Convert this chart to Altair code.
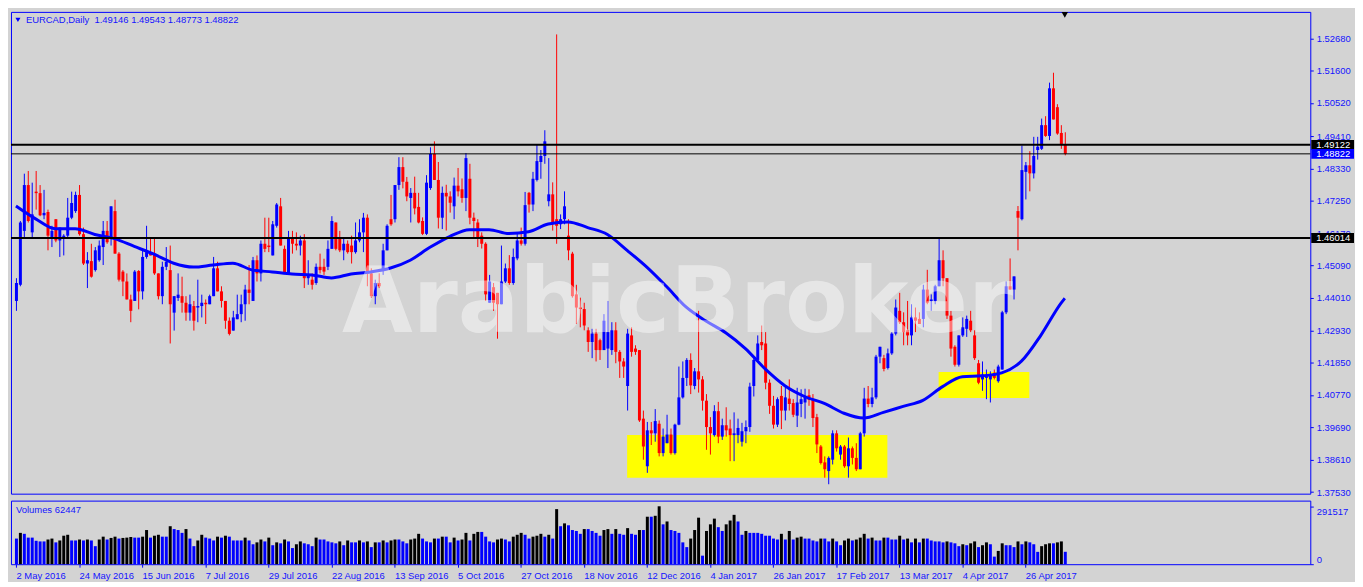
import altair as alt
import pandas as pd

# ---------------- data ----------------
date_labels = ["2 May 2016", "24 May 2016", "15 Jun 2016", "7 Jul 2016", "29 Jul 2016",
               "22 Aug 2016", "13 Sep 2016", "5 Oct 2016", "27 Oct 2016", "18 Nov 2016",
               "12 Dec 2016", "4 Jan 2017", "26 Jan 2017", "17 Feb 2017", "13 Mar 2017",
               "4 Apr 2017", "26 Apr 2017"]
date_tick_bars = [0, 16, 32, 48, 64, 80, 96, 112, 128, 144, 160, 176, 192, 208, 224, 240, 256]

price_ticks = [1.37530, 1.38610, 1.39690, 1.40770, 1.41850, 1.42930, 1.44010, 1.45090,
               1.46170, 1.47250, 1.48330, 1.49410, 1.50520, 1.51600, 1.52680]

open_ = [
    1.4391, 1.4445, 1.4625, 1.4778, 1.4620, 1.4756, 1.4751, 1.4677, 1.4688, 1.4603,
    1.4664, 1.4593, 1.4598, 1.4609, 1.4669, 1.4691, 1.4745, 1.4614, 1.4516, 1.4524,
    1.4494, 1.4527, 1.4571, 1.4625, 1.4603, 1.4691, 1.4549, 1.4489, 1.4456, 1.4396,
    1.4391, 1.4491, 1.4423, 1.4538, 1.4554, 1.4549, 1.4483, 1.4407, 1.4505, 1.4494,
    1.4352, 1.4401, 1.4407, 1.4385, 1.4352, 1.4374, 1.4369, 1.4374, 1.4385, 1.4380,
    1.4407, 1.4500, 1.4423, 1.4391, 1.4325, 1.4292, 1.4330, 1.4347, 1.4380, 1.4429,
    1.4391, 1.4527, 1.4483, 1.4582, 1.4576, 1.4543, 1.4642, 1.4707, 1.4565, 1.4483,
    1.4598, 1.4582, 1.4576, 1.4593, 1.4467, 1.4462, 1.4451, 1.4505, 1.4505, 1.4505,
    1.4565, 1.4653, 1.4598, 1.4560, 1.4582, 1.4576, 1.4554, 1.4593, 1.4620, 1.4669,
    1.4483, 1.4407, 1.4451, 1.4494, 1.4560, 1.4664, 1.4664, 1.4778, 1.4838, 1.4789,
    1.4735, 1.4752, 1.4705, 1.4658, 1.4615, 1.4768, 1.4882, 1.4795, 1.4669, 1.4752,
    1.4740, 1.4707, 1.4776, 1.4764, 1.4735, 1.4799, 1.4669, 1.4653, 1.4609, 1.4582,
    1.4385, 1.4437, 1.4418, 1.4380, 1.4456, 1.4500, 1.4451, 1.4533, 1.4593, 1.4582,
    1.4752, 1.4713, 1.4795, 1.4855, 1.4875, 1.4724, 1.4747, 1.4664, 1.4647, 1.4664,
    1.4609, 1.4549, 1.4413, 1.4369, 1.4364, 1.4293, 1.4254, 1.4282, 1.4260, 1.4227,
    1.4232, 1.4227, 1.4293, 1.4221, 1.4189, 1.4107, 1.4276, 1.4232, 1.4227, 1.3998,
    1.3839, 1.3959, 1.3949, 1.3981, 1.3883, 1.3916, 1.3945, 1.3883, 1.3978, 1.4069,
    1.4134, 1.4194, 1.4107, 1.4156, 1.4129, 1.4058, 1.3970, 1.3943, 1.4023, 1.3938,
    1.3976, 1.3965, 1.3943, 1.3943, 1.3921, 1.3956, 1.3970, 1.4107, 1.4194, 1.4254,
    1.4249, 1.4118, 1.4041, 1.3978, 1.4074, 1.4025, 1.4065, 1.4050, 1.4008, 1.4047,
    1.4052, 1.4076, 1.4063, 1.4003, 1.3905, 1.3852, 1.3823, 1.3861, 1.3949, 1.3878,
    1.3905, 1.3839, 1.3899, 1.3867, 1.3829, 1.3949, 1.4065, 1.4047, 1.4069, 1.4205,
    1.4200, 1.4167, 1.4216, 1.4282, 1.4358, 1.4320, 1.4293, 1.4276, 1.4336, 1.4331,
    1.4331, 1.4429, 1.4391, 1.4391, 1.4440, 1.4527, 1.4467, 1.4342, 1.4238, 1.4178,
    1.4276, 1.4298, 1.4325, 1.4276, 1.4183, 1.4129, 1.4134, 1.4129, 1.4151, 1.4123,
    1.4162, 1.4353, 1.4440, 1.4429, 1.4691, 1.4664, 1.4822, 1.4844, 1.4817, 1.4895,
    1.4899, 1.4978, 1.4942, 1.5101, 1.5038, 1.4952, 1.49146]

high = [
    1.4467, 1.4658, 1.4816, 1.4825, 1.4786, 1.4825, 1.4778, 1.4762, 1.4696, 1.4642,
    1.4664, 1.4636, 1.4614, 1.4735, 1.4756, 1.4756, 1.4778, 1.4636, 1.4554, 1.4582,
    1.4571, 1.4593, 1.4658, 1.4658, 1.4707, 1.4729, 1.4554, 1.4494, 1.4483, 1.4412,
    1.4494, 1.4494, 1.4565, 1.4642, 1.4598, 1.4598, 1.4483, 1.4522, 1.4571, 1.4576,
    1.4407, 1.4483, 1.4472, 1.4407, 1.4412, 1.4391, 1.4462, 1.4412, 1.4396, 1.4412,
    1.4538, 1.4522, 1.4440, 1.4391, 1.4336, 1.4358, 1.4412, 1.4412, 1.4445, 1.4511,
    1.4538, 1.4543, 1.4593, 1.4669, 1.4669, 1.4658, 1.4718, 1.4735, 1.4576, 1.4625,
    1.4625, 1.4620, 1.4609, 1.4614, 1.4527, 1.4483, 1.4516, 1.4549, 1.4532, 1.4593,
    1.4674, 1.4653, 1.4625, 1.4603, 1.4593, 1.4609, 1.4653, 1.4664, 1.4685, 1.4680,
    1.4500, 1.4462, 1.4483, 1.4582, 1.4647, 1.4745, 1.4778, 1.4871, 1.4871, 1.4805,
    1.4768, 1.4806, 1.4752, 1.4670, 1.4811, 1.4904, 1.4924, 1.4855, 1.4773, 1.4779,
    1.4757, 1.4803, 1.4835, 1.4800, 1.4885, 1.4849, 1.4686, 1.4664, 1.4620, 1.4587,
    1.4478, 1.4451, 1.4418, 1.4576, 1.4516, 1.4544, 1.4566, 1.4620, 1.4636, 1.4755,
    1.4755, 1.4822, 1.4913, 1.4895, 1.4961, 1.4868, 1.4787, 1.5281, 1.4680, 1.4757,
    1.4664, 1.4555, 1.4445, 1.4402, 1.4385, 1.4303, 1.4298, 1.4298, 1.4265, 1.4347,
    1.4391, 1.4320, 1.4320, 1.4227, 1.4200, 1.4298, 1.4303, 1.4243, 1.4227, 1.4025,
    1.3987, 1.3987, 1.4030, 1.3992, 1.3965, 1.4011, 1.3965, 1.3981, 1.4172, 1.4189,
    1.4200, 1.4216, 1.4167, 1.4358, 1.4140, 1.4080, 1.4003, 1.4043, 1.4054, 1.3998,
    1.4036, 1.3995, 1.4019, 1.3998, 1.3984, 1.3992, 1.4118, 1.4200, 1.4276, 1.4309,
    1.4287, 1.4129, 1.4074, 1.4069, 1.4107, 1.4107, 1.4129, 1.4063, 1.4101, 1.4096,
    1.4098, 1.4096, 1.4080, 1.4014, 1.3910, 1.3872, 1.3872, 1.3959, 1.3959, 1.3910,
    1.3910, 1.3935, 1.3905, 1.3916, 1.3954, 1.4101, 1.4107, 1.4101, 1.4211, 1.4238,
    1.4211, 1.4232, 1.4287, 1.4396, 1.4418, 1.4353, 1.4391, 1.4380, 1.4369, 1.4353,
    1.4445, 1.4495, 1.4413, 1.4445, 1.4598, 1.4560, 1.4467, 1.4358, 1.4243, 1.4276,
    1.4336, 1.4342, 1.4358, 1.4293, 1.4194, 1.4189, 1.4162, 1.4156, 1.4162, 1.4178,
    1.4358, 1.4456, 1.4533, 1.4473, 1.4708, 1.4910, 1.4855, 1.4891, 1.4939, 1.4939,
    1.5000, 1.5008, 1.5120, 1.5153, 1.5048, 1.4978, 1.49543]

low = [
    1.4358, 1.4440, 1.4598, 1.4653, 1.4603, 1.4696, 1.4674, 1.4664, 1.4560, 1.4571,
    1.4587, 1.4538, 1.4543, 1.4603, 1.4664, 1.4685, 1.4609, 1.4511, 1.4434, 1.4469,
    1.4489, 1.4522, 1.4511, 1.4582, 1.4576, 1.4549, 1.4456, 1.4407, 1.4396, 1.4320,
    1.4391, 1.4363, 1.4396, 1.4532, 1.4543, 1.4478, 1.4396, 1.4380, 1.4494, 1.4249,
    1.4292, 1.4391, 1.4352, 1.4325, 1.4325, 1.4292, 1.4320, 1.4336, 1.4314, 1.4380,
    1.4407, 1.4423, 1.4369, 1.4298, 1.4276, 1.4292, 1.4330, 1.4320, 1.4325, 1.4380,
    1.4391, 1.4456, 1.4456, 1.4554, 1.4554, 1.4543, 1.4636, 1.4576, 1.4483, 1.4483,
    1.4549, 1.4560, 1.4543, 1.4434, 1.4445, 1.4429, 1.4445, 1.4483, 1.4478, 1.4494,
    1.4565, 1.4560, 1.4554, 1.4527, 1.4549, 1.4516, 1.4549, 1.4587, 1.4554, 1.4440,
    1.4401, 1.4380, 1.4434, 1.4478, 1.4560, 1.4642, 1.4653, 1.4762, 1.4767, 1.4724,
    1.4653, 1.4680, 1.4650, 1.4611, 1.4611, 1.4762, 1.4795, 1.4633, 1.4631, 1.4626,
    1.4686, 1.4664, 1.4740, 1.4719, 1.4691, 1.4647, 1.4598, 1.4571, 1.4566, 1.4391,
    1.4385, 1.4358, 1.4265, 1.4380, 1.4451, 1.4445, 1.4445, 1.4527, 1.4576, 1.4576,
    1.4686, 1.4691, 1.4790, 1.4799, 1.4849, 1.4707, 1.4626, 1.4582, 1.4631, 1.4647,
    1.4527, 1.4402, 1.4314, 1.4303, 1.4293, 1.4221, 1.4200, 1.4189, 1.4194, 1.4227,
    1.4167, 1.4211, 1.4183, 1.4134, 1.4134, 1.4025, 1.4205, 1.4211, 1.3987, 1.3861,
    1.3817, 1.3910, 1.3921, 1.3872, 1.3872, 1.3916, 1.3878, 1.3878, 1.3976, 1.4065,
    1.4107, 1.4080, 1.4096, 1.4085, 1.4025, 1.3894, 1.3878, 1.3938, 1.3916, 1.3927,
    1.3938, 1.3856, 1.3856, 1.3916, 1.3905, 1.3916, 1.3954, 1.4072, 1.4194, 1.4227,
    1.4096, 1.4014, 1.3965, 1.3970, 1.3963, 1.3992, 1.4025, 1.4003, 1.3970, 1.4003,
    1.3998, 1.4041, 1.3970, 1.3883, 1.3845, 1.3801, 1.3779, 1.3845, 1.3888, 1.3861,
    1.3834, 1.3801, 1.3845, 1.3823, 1.3829, 1.3938, 1.4036, 1.4036, 1.4063, 1.4183,
    1.4156, 1.4162, 1.4211, 1.4276, 1.4314, 1.4243, 1.4243, 1.4243, 1.4287, 1.4314,
    1.4303, 1.4380, 1.4358, 1.4380, 1.4440, 1.4440, 1.4331, 1.4205, 1.4172, 1.4172,
    1.4271, 1.4271, 1.4287, 1.4194, 1.4113, 1.4091, 1.4063, 1.4052, 1.4129, 1.4118,
    1.4162, 1.4347, 1.4429, 1.4396, 1.4560, 1.4660, 1.4730, 1.4757, 1.4800, 1.4863,
    1.4895, 1.4939, 1.4928, 1.4997, 1.4946, 1.4899, 1.48773]

close = [
    1.4451, 1.4653, 1.4778, 1.4658, 1.4680, 1.4751, 1.4677, 1.4685, 1.4609, 1.4625,
    1.4593, 1.4636, 1.4609, 1.4669, 1.4718, 1.4745, 1.4614, 1.4516, 1.4527, 1.4472,
    1.4560, 1.4576, 1.4625, 1.4587, 1.4707, 1.4549, 1.4462, 1.4456, 1.4396, 1.4358,
    1.4489, 1.4423, 1.4538, 1.4554, 1.4543, 1.4483, 1.4407, 1.4505, 1.4522, 1.4380,
    1.4407, 1.4412, 1.4385, 1.4352, 1.4380, 1.4325, 1.4374, 1.4385, 1.4380, 1.4407,
    1.4500, 1.4423, 1.4391, 1.4325, 1.4281, 1.4336, 1.4347, 1.4380, 1.4429, 1.4418,
    1.4527, 1.4483, 1.4582, 1.4565, 1.4571, 1.4647, 1.4713, 1.4576, 1.4483, 1.4598,
    1.4582, 1.4576, 1.4593, 1.4467, 1.4478, 1.4445, 1.4505, 1.4494, 1.4489, 1.4565,
    1.4658, 1.4565, 1.4560, 1.4582, 1.4554, 1.4554, 1.4593, 1.4620, 1.4669, 1.4483,
    1.4407, 1.4451, 1.4440, 1.4560, 1.4642, 1.4647, 1.4778, 1.4838, 1.4789, 1.4740,
    1.4752, 1.4700, 1.4653, 1.4615, 1.4786, 1.4882, 1.4795, 1.4669, 1.4752, 1.4740,
    1.4719, 1.4776, 1.4757, 1.4735, 1.4868, 1.4669, 1.4658, 1.4598, 1.4582, 1.4413,
    1.4456, 1.4385, 1.4380, 1.4456, 1.4500, 1.4451, 1.4538, 1.4593, 1.4582, 1.4711,
    1.4713, 1.4799, 1.4858, 1.4875, 1.4924, 1.4747, 1.4653, 1.4642, 1.4664, 1.4707,
    1.4560, 1.4407, 1.4369, 1.4364, 1.4309, 1.4254, 1.4282, 1.4227, 1.4227, 1.4325,
    1.4287, 1.4293, 1.4221, 1.4189, 1.4172, 1.4282, 1.4221, 1.4221, 1.3992, 1.3905,
    1.3959, 1.3949, 1.3990, 1.3883, 1.3938, 1.3945, 1.3883, 1.3978, 1.4069, 1.4134,
    1.4194, 1.4109, 1.4156, 1.4129, 1.4058, 1.3970, 1.3949, 1.4023, 1.3938, 1.3976,
    1.3959, 1.3943, 1.3949, 1.3967, 1.3956, 1.3970, 1.4105, 1.4194, 1.4249, 1.4243,
    1.4118, 1.4041, 1.3978, 1.4063, 1.4025, 1.4069, 1.4047, 1.4011, 1.4052, 1.4063,
    1.4074, 1.4061, 1.4000, 1.3912, 1.3850, 1.3829, 1.3867, 1.3949, 1.3899, 1.3905,
    1.3839, 1.3899, 1.3867, 1.3829, 1.3949, 1.4065, 1.4047, 1.4069, 1.4205, 1.4238,
    1.4164, 1.4216, 1.4282, 1.4369, 1.4320, 1.4287, 1.4276, 1.4336, 1.4325, 1.4314,
    1.4429, 1.4385, 1.4396, 1.4440, 1.4527, 1.4467, 1.4342, 1.4232, 1.4178, 1.4276,
    1.4303, 1.4331, 1.4293, 1.4200, 1.4118, 1.4145, 1.4140, 1.4145, 1.4134, 1.4172,
    1.4353, 1.4440, 1.4429, 1.4473, 1.4669, 1.4828, 1.4844, 1.4817, 1.4875, 1.4906,
    1.4978, 1.4942, 1.5101, 1.4997, 1.4950, 1.4915, 1.48822]

volume = [
    129000, 157700, 152900, 133800, 133800, 117900, 114700, 114700, 124300, 129000,
    109900, 119500, 143400, 148100, 119500, 119500, 124300, 119500, 124300, 119500,
    90800, 124300, 138600, 124300, 132200, 138600, 129000, 132200, 133800, 137000,
    133800, 133800, 138600, 172000, 133800, 143400, 148100, 138600, 138600, 191200,
    176800, 172000, 157700, 176800, 129000, 90800, 119500, 148100, 133800, 129000,
    119500, 138600, 133800, 143400, 138600, 119500, 119500, 119500, 133800, 119500,
    100400, 109900, 124300, 114700, 133800, 95600, 109900, 105100, 124300, 114700,
    81200, 100400, 114700, 105100, 100400, 90800, 133800, 124300, 124300, 114700,
    109900, 105100, 114700, 95600, 119500, 109900, 109900, 119500, 109900, 114700,
    86000, 109900, 109900, 119500, 109900, 119500, 124300, 124300, 114700, 105100,
    124300, 129000, 152900, 129000, 114700, 109900, 129000, 129000, 138600, 138600,
    109900, 133800, 119500, 124300, 157700, 119500, 152900, 162500, 162500, 138600,
    114700, 109900, 124300, 129000, 124300, 114700, 138600, 148100, 157700, 148100,
    129000, 138600, 143400, 152900, 138600, 148100, 129000, 277200, 191200, 205500,
    195900, 172000, 167300, 152900, 176800, 176800, 167300, 157700, 143400, 172000,
    176800, 152900, 176800, 152900, 148100, 181600, 152900, 148100, 172000, 172000,
    239000, 239000, 243700, 291517, 200700, 215100, 172000, 167300, 157700, 109900,
    86000, 129000, 172000, 234200, 43000, 167300, 200700, 229400, 186400, 167300,
    200700, 219800, 248500, 215100, 148100, 167300, 157700, 157700, 157700, 152900,
    143400, 143400, 129000, 124300, 152900, 124300, 167300, 124300, 133800, 138600,
    129000, 129000, 119500, 114700, 129000, 129000, 114700, 129000, 114700, 95600,
    119500, 129000, 119500, 124300, 133800, 152900, 129000, 133800, 119500, 119500,
    133800, 133800, 124300, 124300, 143400, 124300, 129000, 109900, 129000, 109900,
    129000, 129000, 119500, 114700, 114700, 109900, 114700, 109900, 105100, 90800,
    100400, 95600, 105100, 114700, 86000, 95600, 109900, 100400, 38200, 66900,
    105100, 95600, 95600, 86000, 114700, 100400, 114700, 109900, 100400, 62100,
    90800, 100400, 105100, 105100, 109900, 114700, 62447]

ma_bar = [0, 5, 10, 15, 20, 25, 30, 35, 40, 45, 50, 55, 60, 65, 70, 75, 80, 85, 90, 95,
          100, 105, 110, 115, 120, 125, 130, 135, 140, 145, 150, 155, 160, 165, 170, 175,
          180, 185, 190, 195, 200, 205, 210, 215, 220, 225, 230, 235, 240, 245, 250, 255,
          260, 265, 266]
ma_val = [1.4708, 1.4665, 1.4632, 1.4632, 1.4613, 1.4599, 1.4573, 1.4547, 1.4517, 1.4504,
          1.4511, 1.4517, 1.4494, 1.4488, 1.4481, 1.4478, 1.4468, 1.4481, 1.4488, 1.4501,
          1.4527, 1.4570, 1.4606, 1.4629, 1.4629, 1.4616, 1.4622, 1.4648, 1.4655, 1.4636,
          1.4613, 1.4560, 1.4504, 1.4439, 1.4370, 1.4324, 1.4285, 1.4232, 1.4164, 1.4108,
          1.4072, 1.4049, 1.4016, 1.4000, 1.4019, 1.4039, 1.4059, 1.4105, 1.4138, 1.4141,
          1.4151, 1.4190, 1.4278, 1.4383, 1.4400]

level_thick = [1.49122, 1.46014]
level_close = [1.48822]

zone_start = [155, 234]
zone_end = [221, 257]
zone_low = [1.3801, 1.4067]
zone_high = [1.3943, 1.4154]

symbol_name = "EURCAD,Daily"
watermark = "ArabicBroker"

# ---------------- chart ----------------
W, H1, H2 = 1308, 485, 64
X_DOMAIN = [0, 327]
Y_DOMAIN = [1.37475, 1.53562]
V_DOMAIN = [0, 320000]
BLUE = "#0000ff"
RED = "#ff0000"
TXT = "#1414ff"
BG = "#d3d3d3"
FONT = "Liberation Sans"
FS = 9.5

n = len(close)
df = pd.DataFrame({"i": list(range(n)), "open": open_, "high": high, "low": low,
                   "close": close, "volume": volume})
df["dir"] = ["up" if c >= o else "down" for o, c in zip(open_, close)]
df["vdir"] = ["vdn"] + ["vup" if volume[k] > volume[k - 1] else "vdn" for k in range(1, n)]

xs = alt.Scale(domain=X_DOMAIN, nice=False, zero=False)
ys = alt.Scale(domain=Y_DOMAIN, nice=False, zero=False)
vs = alt.Scale(domain=V_DOMAIN, nice=False, zero=False)

y_axis = alt.Axis(orient="right", values=price_ticks, format=".5f", title=None, grid=False,
                  domain=False, ticks=True, tickColor=BLUE, tickSize=3, labelColor=TXT,
                  labelPadding=3, labelFont=FONT, labelFontSize=FS, labelOverlap=False,
                  labelFlush=False)


def Y(field):
    return alt.Y(f"{field}:Q", scale=ys, axis=y_axis)


def X(field="i"):
    return alt.X(f"{field}:Q", scale=xs, axis=None)


dir_color = alt.Color("dir:N", scale=alt.Scale(domain=["up", "down"], range=[BLUE, RED]),
                      legend=None)

zones = pd.DataFrame({"x1": zone_start, "x2": zone_end, "p1": zone_low, "p2": zone_high})
yellow = alt.Chart(zones).mark_rect(color="#ffff00").encode(
    x=X("x1"), x2="x2:Q", y=Y("p1"), y2="p2:Q")

wicks = alt.Chart(df).mark_rule(strokeWidth=1, xOffset=0.5).encode(
    x=X(), y=Y("low"), y2="high:Q", color=dir_color)

bodies = alt.Chart(df).mark_bar(width=3, xOffset=0.5).encode(
    x=X(), y=Y("open"), y2="close:Q", color=dir_color)

ma_df = pd.DataFrame({"bar": ma_bar, "ma": ma_val})
ma_line = alt.Chart(ma_df).mark_line(color=BLUE, strokeWidth=3, interpolate="monotone").encode(
    x=X("bar"), y=Y("ma"))

wm = alt.Chart(pd.DataFrame({"t": [watermark]})).mark_text(
    font="DejaVu Sans", fontWeight="bold", fontSize=92, color="white", opacity=0.45,
    align="center", baseline="alphabetic").encode(
    x=alt.value(671), y=alt.value(322), text="t:N")

hl_thick = alt.Chart(pd.DataFrame({"price": level_thick})).mark_rule(
    color="black", strokeWidth=2).encode(y=Y("price"))
hl_thin = alt.Chart(pd.DataFrame({"price": level_close})).mark_rule(
    color="black", strokeWidth=1).encode(y=Y("price"))

title_text = f"{symbol_name}\u00a0 {open_[-1]:.5f} {high[-1]:.5f} {low[-1]:.5f} {close[-1]:.5f}"
title_mark = alt.Chart(pd.DataFrame({"t": [title_text]})).mark_text(
    align="left", baseline="middle", font=FONT, fontSize=FS, color=TXT).encode(
    x=alt.value(15), y=alt.value(8), text="t:N")
title_tri = alt.Chart(pd.DataFrame({"t": [1]})).mark_point(
    shape="triangle-down", filled=True, size=26, color=BLUE, opacity=1).encode(
    x=alt.value(7), y=alt.value(8))

shift_mark = alt.Chart(pd.DataFrame({"i": [n - 1]})).mark_point(
    shape="triangle-down", filled=True, size=42, color="black", opacity=1).encode(
    x=X(), y=alt.value(3))

lab_df = pd.DataFrame({
    "price": [level_thick[0], level_close[0], level_thick[1]],
    "kind": ["line", "close", "line"],
})
lab_df["label"] = [f"{p:.5f}" for p in lab_df["price"]]
box_shape = "M-1,-0.2326L1,-0.2326L1,0.2326L-1,0.2326Z"
lab_box = alt.Chart(lab_df).mark_point(
    shape=box_shape, size=43 * 43, filled=True, opacity=1, strokeWidth=0).encode(
    x=alt.value(W + 22.5), y=Y("price"),
    color=alt.Color("kind:N", scale=alt.Scale(domain=["line", "close"], range=["#000000", BLUE]),
                    legend=None))
lab_txt = alt.Chart(lab_df).mark_text(
    align="left", baseline="middle", font=FONT, fontSize=FS, color="white").encode(
    x=alt.value(W + 6), y=Y("price"), text="label:N")

main = alt.layer(yellow, wicks, bodies, ma_line, wm, hl_thick, hl_thin, title_tri, title_mark,
                 shift_mark, lab_box, lab_txt).resolve_scale(color="independent").properties(
    width=W, height=H1)

# volume panel
label_js = "[" + ",".join(f"'{s}'" for s in date_labels) + "]"
x_axis = alt.Axis(values=date_tick_bars, labelExpr=f"{label_js}[round(datum.value / 16)]",
                  orient="bottom", title=None, grid=False, domain=False, tickColor=BLUE,
                  tickSize=3, labelColor=TXT, labelAlign="left", labelPadding=3,
                  labelFont=FONT, labelFontSize=FS, labelOverlap=False, labelFlush=False)
v_axis = alt.Axis(orient="right", values=[0, max(volume)], format="d", title=None, grid=False,
                  domain=False, tickColor=BLUE, tickSize=3, labelColor=TXT, labelPadding=3,
                  labelFont=FONT, labelFontSize=FS, labelOverlap=False, labelFlush=False,
                  labelBaseline={"condition": {"test": "datum.value > 0", "value": "top"},
                                 "value": "bottom"})

vbars = alt.Chart(df).mark_bar(width=3, xOffset=0.5).encode(
    x=alt.X("i:Q", scale=xs, axis=x_axis),
    y=alt.Y("volume:Q", scale=vs, axis=v_axis),
    color=alt.Color("vdir:N", scale=alt.Scale(domain=["vup", "vdn"], range=["#000000", BLUE]),
                    legend=None))
vtext = alt.Chart(pd.DataFrame({"t": [f"Volumes {volume[-1]}"]})).mark_text(
    align="left", baseline="middle", font=FONT, fontSize=FS, color=TXT).encode(
    x=alt.value(5), y=alt.value(9), text="t:N")

vol = alt.layer(vbars, vtext).properties(width=W, height=H2)

chart = alt.vconcat(main, vol, spacing=2).resolve_scale(color="independent").properties(
    padding={"left": 1, "top": 1, "right": 0, "bottom": 0},
    background=BG,
).configure_view(stroke=BLUE, strokeWidth=1)

chart.save("out.html", embed_options={"renderer": "svg", "actions": False})
